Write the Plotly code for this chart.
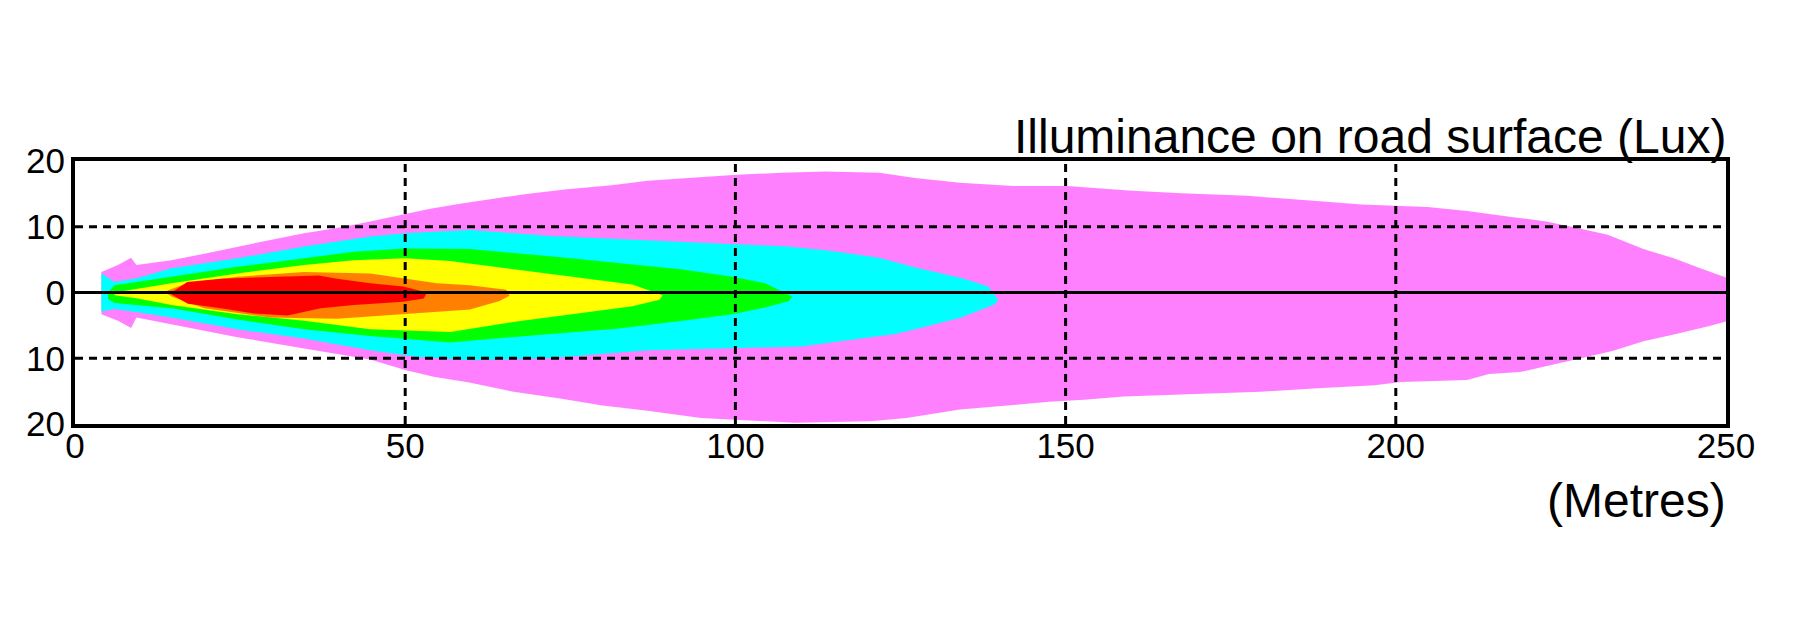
import plotly.graph_objects as go

# ---------------- data ----------------
X_TICKS = [0, 50, 100, 150, 200, 250]
Y_TICKS = [-20, -10, 0, 10, 20]
Y_TICK_TEXT = ["20", "10", "0", "10", "20"]
X_GRID = [50, 100, 150, 200]
Y_GRID = [-10, 10]

# outer band (magenta) boundary, upper and lower
MAG_UP_X = [4.0, 4.0, 6.5, 8.5, 9.3, 14.6, 19.6, 24.6, 29.6, 34.7, 39.7, 44.7, 50, 53.6, 58.3, 63,
            68.4, 74.5, 81.3, 86.7, 93.4, 100.2, 107, 113.7, 121.8, 127.2, 134, 142.1, 150.2, 152.8,
            159.5, 167.5, 177.5, 189.5, 194.8, 204.8, 210.8, 217.5, 222.8, 227.5, 232.1, 237.5,
            242.1, 246.1, 250]
MAG_UP_Y = [0, 3.1, 4.2, 5.3, 4.2, 4.9, 5.9, 7.0, 8.0, 9.0, 9.8, 10.8, 12.0, 12.7, 13.5, 14.2,
            15.0, 15.7, 16.3, 17.0, 17.5, 17.9, 18.2, 18.4, 18.2, 17.4, 16.7, 16.2, 16.2, 16.0,
            15.5, 15.1, 14.7, 13.8, 13.4, 13.0, 12.4, 11.5, 10.8, 9.8, 8.8, 6.6,
            5.2, 3.7, 2.3]
MAG_LO_X = [4.0, 6.5, 8.5, 9.3, 14.6, 19.6, 24.6, 34.7, 44.7, 50, 54.3, 59.7, 66.4, 73.2, 79.9,
            86.7, 94.8, 100.2, 109, 120.5, 125.9, 134, 142.1, 147.5, 152.8, 158.8, 167.5,
            179.5, 187.5, 196.8, 200.8, 210.8, 214.1, 218.8, 222.8, 227.5, 232.8, 237.5, 242.1,
            247.5, 250]
MAG_LO_Y = [-3.3, -4.3, -5.4, -3.8, -4.8, -5.8, -6.8, -8.5, -10.2, -11.8, -12.8, -13.7, -15.1,
            -16.1, -17.2, -18.0, -19.1, -19.4, -19.8, -19.6, -19.1, -17.8, -17.1, -16.6, -16.3,
            -15.8, -15.5, -15.1, -14.6, -14.1, -13.6, -13.3, -12.4, -12.1, -11.1, -10.1,
            -8.9, -7.4, -6.4, -5.1, -4.4]

# cyan band
CYA_UP_X = [4.0, 4.0, 6.0, 9.5, 14.6, 24.6, 34.7, 44.7, 50, 59.8, 72, 87, 102, 108, 114, 121.7,
            127.7, 134.2, 138.3, 139.8]
CYA_UP_Y = [0, 2.9, 1.6, 2.2, 3.7, 5.2, 7.0, 8.5, 9.0, 9.5, 8.6, 7.9, 7.2, 7.0, 6.4, 5.3,
            3.7, 2.2, 0.9, -1.1]
CYA_LO_X = [4.0, 6.0, 9.5, 14.6, 24.6, 34.7, 44.7, 52, 60, 72, 80, 87, 102, 110, 116.7, 124.2,
            129.2, 134.2, 136.8, 139.3]
CYA_LO_Y = [-2.9, -2.5, -3.0, -3.8, -5.6, -7.0, -8.8, -9.8, -10.3, -10.0, -9.3, -8.8, -8.4,
            -8.2, -7.3, -6.3, -5.1, -3.8, -2.8, -1.8]

# green band
GRN_UP_X = [5.0, 6.0, 14.6, 24.6, 34.7, 42.2, 50, 59.8, 72, 82, 92, 99.5, 104.5, 108.6]
GRN_UP_Y = [0, 1.1, 2.4, 3.9, 5.2, 6.2, 6.7, 6.6, 5.5, 4.5, 3.5, 2.4, 1.4, -0.6]
GRN_LO_X = [5.0, 6.0, 14.6, 24.6, 34.7, 44.7, 56.8, 72, 82, 92, 99.5, 104.5, 108.1]
GRN_LO_Y = [-1.0, -1.6, -2.4, -4.1, -5.6, -6.6, -7.6, -6.3, -5.5, -4.3, -3.3, -2.3, -1.3]

# yellow band
YEL_UP_X = [6.0, 9.5, 14.6, 24.6, 34.7, 42.2, 50, 56.8, 66.9, 76.9, 84.4, 89]
YEL_UP_Y = [0, 0.6, 1.4, 2.9, 4.2, 4.9, 5.2, 4.8, 3.5, 2.2, 1.2, -0.4]
YEL_LO_X = [6.0, 9.5, 14.6, 24.6, 34.7, 44.7, 56.8, 66.9, 76.9, 84.4, 88.5]
YEL_LO_Y = [-0.4, -0.9, -1.9, -3.3, -4.3, -5.6, -6.0, -4.4, -3.1, -2.1, -1.1]

# orange band
ORA_UP_X = [14.0, 17, 24.6, 34.7, 44.7, 49.7, 54.8, 59.8, 65.3, 65.8]
ORA_UP_Y = [0.3, 1.4, 2.4, 3.1, 2.9, 2.1, 1.4, 1.1, 0.4, -0.5]
ORA_LO_X = [14.0, 14.6, 19.6, 29.6, 39.7, 49.7, 59.8, 64.3]
ORA_LO_Y = [-0.2, -0.6, -2.4, -3.8, -4.0, -3.3, -2.6, -1.3]

# red band
RED_UP_X = [14.6, 17, 22.1, 29.6, 34.7, 36.9, 39.7, 44.7, 49.7, 53.3]
RED_UP_Y = [0, 1.6, 2.1, 2.4, 2.6, 2.6, 2.1, 1.4, 0.9, 0.0]
RED_LO_X = [14.6, 17.1, 22.1, 27.1, 32.2, 37.2, 42.2, 49.7, 52.8]
RED_LO_Y = [-0.3, -1.7, -2.4, -3.2, -3.5, -2.4, -1.9, -1.4, -0.9]

# ---------------- styling ----------------
FONT = "Liberation Sans, Arial, sans-serif"
BANDS = [
    (MAG_UP_X, MAG_UP_Y, MAG_LO_X, MAG_LO_Y, "#FF80FF"),
    (CYA_UP_X, CYA_UP_Y, CYA_LO_X, CYA_LO_Y, "#00FFFF"),
    (GRN_UP_X, GRN_UP_Y, GRN_LO_X, GRN_LO_Y, "#00FF00"),
    (YEL_UP_X, YEL_UP_Y, YEL_LO_X, YEL_LO_Y, "#FFFF00"),
    (ORA_UP_X, ORA_UP_Y, ORA_LO_X, ORA_LO_Y, "#FF8000"),
    (RED_UP_X, RED_UP_Y, RED_LO_X, RED_LO_Y, "#FF0000"),
]

fig = go.Figure()
for ux, uy, lx, ly, col in BANDS:
    px = list(ux) + list(reversed(lx))
    py = list(uy) + list(reversed(ly))
    fig.add_trace(go.Scatter(x=px, y=py, mode="lines", fill="toself", fillcolor=col,
                             line=dict(width=0, color=col), hoverinfo="skip", showlegend=False))

DASH = "8px,6px"
shapes = []
for v in X_GRID:
    shapes.append(dict(type="line", xref="x", yref="y", x0=v, x1=v, y0=Y_TICKS[0], y1=Y_TICKS[-1],
                       line=dict(color="black", width=3, dash=DASH), layer="above"))
for v in Y_GRID:
    shapes.append(dict(type="line", xref="x", yref="y", x0=X_TICKS[0], x1=X_TICKS[-1], y0=v, y1=v,
                       line=dict(color="black", width=3, dash=DASH), layer="above"))
shapes.append(dict(type="line", xref="x", yref="y", x0=X_TICKS[0], x1=X_TICKS[-1], y0=0, y1=0,
                   line=dict(color="black", width=3), layer="above"))

fig.update_layout(
    width=1800, height=626, autosize=False,
    margin=dict(l=67, r=82, t=153, b=210),
    paper_bgcolor="white", plot_bgcolor="white",
    shapes=shapes,
    xaxis=dict(range=[X_TICKS[0], X_TICKS[-1]], tickvals=X_TICKS, ticktext=[str(v) for v in X_TICKS],
               showgrid=False, zeroline=False, showline=True, mirror=True, linecolor="black",
               linewidth=4, ticks="", ticklabelstandoff=-12, layer="above traces",
               tickfont=dict(family=FONT, size=35, color="black")),
    yaxis=dict(range=[Y_TICKS[0], Y_TICKS[-1]], tickvals=Y_TICKS, ticktext=Y_TICK_TEXT,
               showgrid=False, zeroline=False, showline=True, mirror=True, linecolor="black",
               linewidth=4, ticks="", ticklabelstandoff=-1, layer="above traces",
               tickfont=dict(family=FONT, size=35, color="black")),
    annotations=[
        dict(text="Illuminance on road surface (Lux)", xref="paper", yref="paper", x=1, y=1,
             xanchor="right", yanchor="bottom", showarrow=False, xshift=2, yshift=-4,
             font=dict(family=FONT, size=48, color="black")),
        dict(text="(Metres)", xref="paper", yref="paper", x=1, y=0,
             xanchor="right", yanchor="top", showarrow=False, xshift=2, yshift=-48,
             font=dict(family=FONT, size=48, color="black")),
    ],
)

fig.write_html("out.html")
